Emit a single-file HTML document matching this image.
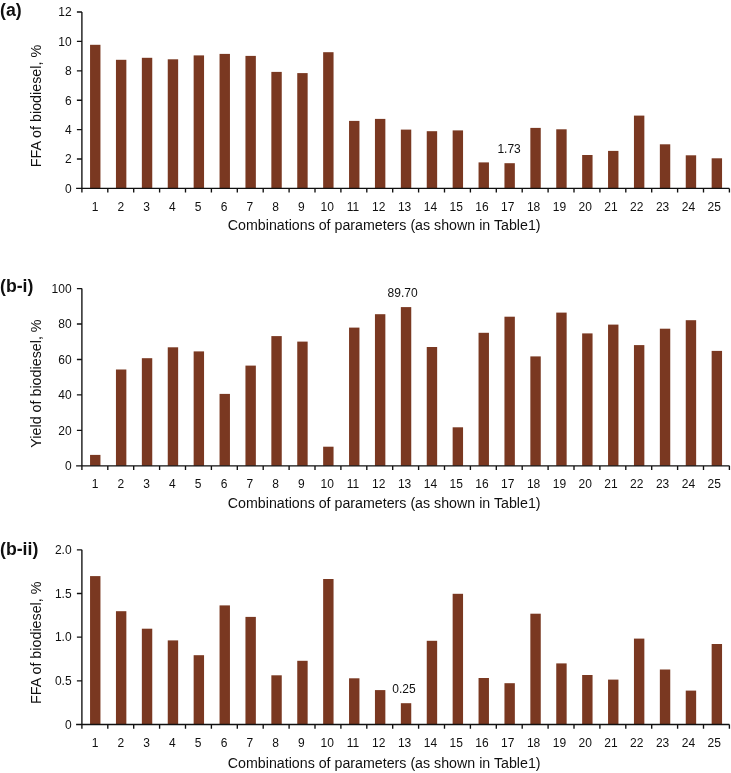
<!DOCTYPE html>
<html lang="en"><head><meta charset="utf-8"><title>Biodiesel charts</title>
<style>
html,body{margin:0;padding:0;background:#fff;}
body{width:731px;height:773px;overflow:hidden;}
svg{display:block;}
text{font-family:"Liberation Sans",Arial,Helvetica,sans-serif;fill:#101010;}
.t{font-size:12px;}
.a{font-size:14.23px;}
.y{font-size:14.3px;}
.h{font-size:17.7px;font-weight:bold;}
.ax{stroke:#101010;stroke-width:1.35;fill:none;}
.b{fill:#7a3821;}
</style></head><body>
<svg width="731" height="773" viewBox="0 0 731 773">
<rect width="731" height="773" fill="#fff"/>

<g>
<rect class="b" x="90.05" y="44.80" width="10.40" height="143.60"/>
<rect class="b" x="115.95" y="59.80" width="10.40" height="128.60"/>
<rect class="b" x="141.85" y="57.80" width="10.40" height="130.60"/>
<rect class="b" x="167.75" y="59.30" width="10.40" height="129.10"/>
<rect class="b" x="193.65" y="55.40" width="10.40" height="133.00"/>
<rect class="b" x="219.55" y="53.90" width="10.40" height="134.50"/>
<rect class="b" x="245.45" y="55.90" width="10.40" height="132.50"/>
<rect class="b" x="271.35" y="71.90" width="10.40" height="116.50"/>
<rect class="b" x="297.25" y="73.10" width="10.40" height="115.30"/>
<rect class="b" x="323.15" y="52.20" width="10.40" height="136.20"/>
<rect class="b" x="349.05" y="120.90" width="10.40" height="67.50"/>
<rect class="b" x="374.95" y="118.90" width="10.40" height="69.50"/>
<rect class="b" x="400.85" y="129.60" width="10.40" height="58.80"/>
<rect class="b" x="426.75" y="131.20" width="10.40" height="57.20"/>
<rect class="b" x="452.65" y="130.40" width="10.40" height="58.00"/>
<rect class="b" x="478.55" y="162.40" width="10.40" height="26.00"/>
<rect class="b" x="504.45" y="163.20" width="10.40" height="25.20"/>
<rect class="b" x="530.35" y="127.90" width="10.40" height="60.50"/>
<rect class="b" x="556.25" y="129.30" width="10.40" height="59.10"/>
<rect class="b" x="582.15" y="155.00" width="10.40" height="33.40"/>
<rect class="b" x="608.05" y="150.90" width="10.40" height="37.50"/>
<rect class="b" x="633.95" y="115.60" width="10.40" height="72.80"/>
<rect class="b" x="659.85" y="144.30" width="10.40" height="44.10"/>
<rect class="b" x="685.75" y="155.30" width="10.40" height="33.10"/>
<rect class="b" x="711.65" y="158.30" width="10.40" height="30.10"/>
<path class="ax" d="M81.90 12.00 V188.40 H729.40 M76.10 188.40 H81.90 M76.90 159.00 H81.90 M76.90 129.60 H81.90 M76.90 100.20 H81.90 M76.90 70.80 H81.90 M76.90 41.40 H81.90 M76.90 12.00 H81.90 M81.90 188.40 V192.60 M107.80 188.40 V192.60 M133.70 188.40 V192.60 M159.60 188.40 V192.60 M185.50 188.40 V192.60 M211.40 188.40 V192.60 M237.30 188.40 V192.60 M263.20 188.40 V192.60 M289.10 188.40 V192.60 M315.00 188.40 V192.60 M340.90 188.40 V192.60 M366.80 188.40 V192.60 M392.70 188.40 V192.60 M418.60 188.40 V192.60 M444.50 188.40 V192.60 M470.40 188.40 V192.60 M496.30 188.40 V192.60 M522.20 188.40 V192.60 M548.10 188.40 V192.60 M574.00 188.40 V192.60 M599.90 188.40 V192.60 M625.80 188.40 V192.60 M651.70 188.40 V192.60 M677.60 188.40 V192.60 M703.50 188.40 V192.60 M729.40 188.40 V192.60"/>
<text class="t" x="71.6" y="192.70" text-anchor="end">0</text>
<text class="t" x="71.6" y="163.30" text-anchor="end">2</text>
<text class="t" x="71.6" y="133.90" text-anchor="end">4</text>
<text class="t" x="71.6" y="104.50" text-anchor="end">6</text>
<text class="t" x="71.6" y="75.10" text-anchor="end">8</text>
<text class="t" x="71.6" y="45.70" text-anchor="end">10</text>
<text class="t" x="71.6" y="16.30" text-anchor="end">12</text>
<text class="t" x="95.00" y="210.80" text-anchor="middle">1</text>
<text class="t" x="120.80" y="210.80" text-anchor="middle">2</text>
<text class="t" x="146.60" y="210.80" text-anchor="middle">3</text>
<text class="t" x="172.40" y="210.80" text-anchor="middle">4</text>
<text class="t" x="198.20" y="210.80" text-anchor="middle">5</text>
<text class="t" x="224.00" y="210.80" text-anchor="middle">6</text>
<text class="t" x="249.80" y="210.80" text-anchor="middle">7</text>
<text class="t" x="275.60" y="210.80" text-anchor="middle">8</text>
<text class="t" x="301.40" y="210.80" text-anchor="middle">9</text>
<text class="t" x="327.20" y="210.80" text-anchor="middle">10</text>
<text class="t" x="353.00" y="210.80" text-anchor="middle">11</text>
<text class="t" x="378.80" y="210.80" text-anchor="middle">12</text>
<text class="t" x="404.60" y="210.80" text-anchor="middle">13</text>
<text class="t" x="430.40" y="210.80" text-anchor="middle">14</text>
<text class="t" x="456.20" y="210.80" text-anchor="middle">15</text>
<text class="t" x="482.00" y="210.80" text-anchor="middle">16</text>
<text class="t" x="507.80" y="210.80" text-anchor="middle">17</text>
<text class="t" x="533.60" y="210.80" text-anchor="middle">18</text>
<text class="t" x="559.40" y="210.80" text-anchor="middle">19</text>
<text class="t" x="585.20" y="210.80" text-anchor="middle">20</text>
<text class="t" x="611.00" y="210.80" text-anchor="middle">21</text>
<text class="t" x="636.80" y="210.80" text-anchor="middle">22</text>
<text class="t" x="662.60" y="210.80" text-anchor="middle">23</text>
<text class="t" x="688.40" y="210.80" text-anchor="middle">24</text>
<text class="t" x="714.20" y="210.80" text-anchor="middle">25</text>
<text class="a" x="384.2" y="229.70" text-anchor="middle">Combinations of parameters (as shown in Table1)</text>
<text class="y" transform="translate(40.8 106.10) rotate(-90)" text-anchor="middle">FFA of biodiesel, %</text>
<text class="t" x="509.10" y="152.80" text-anchor="middle">1.73</text>
<text class="h" transform="translate(0 15.95) scale(1 1.055)">(a)</text>
</g>
<g>
<rect class="b" x="90.05" y="454.90" width="10.40" height="10.90"/>
<rect class="b" x="115.95" y="369.50" width="10.40" height="96.30"/>
<rect class="b" x="141.85" y="358.20" width="10.40" height="107.60"/>
<rect class="b" x="167.75" y="347.30" width="10.40" height="118.50"/>
<rect class="b" x="193.65" y="351.40" width="10.40" height="114.40"/>
<rect class="b" x="219.55" y="393.90" width="10.40" height="71.90"/>
<rect class="b" x="245.45" y="365.60" width="10.40" height="100.20"/>
<rect class="b" x="271.35" y="336.10" width="10.40" height="129.70"/>
<rect class="b" x="297.25" y="341.60" width="10.40" height="124.20"/>
<rect class="b" x="323.15" y="446.70" width="10.40" height="19.10"/>
<rect class="b" x="349.05" y="327.60" width="10.40" height="138.20"/>
<rect class="b" x="374.95" y="314.20" width="10.40" height="151.60"/>
<rect class="b" x="400.85" y="307.10" width="10.40" height="158.70"/>
<rect class="b" x="426.75" y="347.00" width="10.40" height="118.80"/>
<rect class="b" x="452.65" y="427.30" width="10.40" height="38.50"/>
<rect class="b" x="478.55" y="332.80" width="10.40" height="133.00"/>
<rect class="b" x="504.45" y="316.70" width="10.40" height="149.10"/>
<rect class="b" x="530.35" y="356.40" width="10.40" height="109.40"/>
<rect class="b" x="556.25" y="312.60" width="10.40" height="153.20"/>
<rect class="b" x="582.15" y="333.40" width="10.40" height="132.40"/>
<rect class="b" x="608.05" y="324.60" width="10.40" height="141.20"/>
<rect class="b" x="633.95" y="345.10" width="10.40" height="120.70"/>
<rect class="b" x="659.85" y="328.70" width="10.40" height="137.10"/>
<rect class="b" x="685.75" y="320.20" width="10.40" height="145.60"/>
<rect class="b" x="711.65" y="350.90" width="10.40" height="114.90"/>
<path class="ax" d="M81.90 288.60 V465.80 H729.40 M76.10 465.80 H81.90 M76.90 430.36 H81.90 M76.90 394.92 H81.90 M76.90 359.48 H81.90 M76.90 324.04 H81.90 M76.90 288.60 H81.90 M81.90 465.80 V470.00 M107.80 465.80 V470.00 M133.70 465.80 V470.00 M159.60 465.80 V470.00 M185.50 465.80 V470.00 M211.40 465.80 V470.00 M237.30 465.80 V470.00 M263.20 465.80 V470.00 M289.10 465.80 V470.00 M315.00 465.80 V470.00 M340.90 465.80 V470.00 M366.80 465.80 V470.00 M392.70 465.80 V470.00 M418.60 465.80 V470.00 M444.50 465.80 V470.00 M470.40 465.80 V470.00 M496.30 465.80 V470.00 M522.20 465.80 V470.00 M548.10 465.80 V470.00 M574.00 465.80 V470.00 M599.90 465.80 V470.00 M625.80 465.80 V470.00 M651.70 465.80 V470.00 M677.60 465.80 V470.00 M703.50 465.80 V470.00 M729.40 465.80 V470.00"/>
<text class="t" x="71.6" y="470.10" text-anchor="end">0</text>
<text class="t" x="71.6" y="434.66" text-anchor="end">20</text>
<text class="t" x="71.6" y="399.22" text-anchor="end">40</text>
<text class="t" x="71.6" y="363.78" text-anchor="end">60</text>
<text class="t" x="71.6" y="328.34" text-anchor="end">80</text>
<text class="t" x="71.6" y="292.90" text-anchor="end">100</text>
<text class="t" x="95.00" y="488.10" text-anchor="middle">1</text>
<text class="t" x="120.80" y="488.10" text-anchor="middle">2</text>
<text class="t" x="146.60" y="488.10" text-anchor="middle">3</text>
<text class="t" x="172.40" y="488.10" text-anchor="middle">4</text>
<text class="t" x="198.20" y="488.10" text-anchor="middle">5</text>
<text class="t" x="224.00" y="488.10" text-anchor="middle">6</text>
<text class="t" x="249.80" y="488.10" text-anchor="middle">7</text>
<text class="t" x="275.60" y="488.10" text-anchor="middle">8</text>
<text class="t" x="301.40" y="488.10" text-anchor="middle">9</text>
<text class="t" x="327.20" y="488.10" text-anchor="middle">10</text>
<text class="t" x="353.00" y="488.10" text-anchor="middle">11</text>
<text class="t" x="378.80" y="488.10" text-anchor="middle">12</text>
<text class="t" x="404.60" y="488.10" text-anchor="middle">13</text>
<text class="t" x="430.40" y="488.10" text-anchor="middle">14</text>
<text class="t" x="456.20" y="488.10" text-anchor="middle">15</text>
<text class="t" x="482.00" y="488.10" text-anchor="middle">16</text>
<text class="t" x="507.80" y="488.10" text-anchor="middle">17</text>
<text class="t" x="533.60" y="488.10" text-anchor="middle">18</text>
<text class="t" x="559.40" y="488.10" text-anchor="middle">19</text>
<text class="t" x="585.20" y="488.10" text-anchor="middle">20</text>
<text class="t" x="611.00" y="488.10" text-anchor="middle">21</text>
<text class="t" x="636.80" y="488.10" text-anchor="middle">22</text>
<text class="t" x="662.60" y="488.10" text-anchor="middle">23</text>
<text class="t" x="688.40" y="488.10" text-anchor="middle">24</text>
<text class="t" x="714.20" y="488.10" text-anchor="middle">25</text>
<text class="a" x="384.2" y="508.10" text-anchor="middle">Combinations of parameters (as shown in Table1)</text>
<text class="y" transform="translate(40.8 383.55) rotate(-90)" text-anchor="middle">Yield of biodiesel, %</text>
<text class="t" x="402.60" y="297.00" text-anchor="middle">89.70</text>
<text class="h" transform="translate(0 291.60) scale(1 1.055)">(b-i)</text>
</g>
<g>
<rect class="b" x="90.05" y="576.10" width="10.40" height="148.40"/>
<rect class="b" x="115.95" y="611.20" width="10.40" height="113.30"/>
<rect class="b" x="141.85" y="628.70" width="10.40" height="95.80"/>
<rect class="b" x="167.75" y="640.40" width="10.40" height="84.10"/>
<rect class="b" x="193.65" y="655.20" width="10.40" height="69.30"/>
<rect class="b" x="219.55" y="605.40" width="10.40" height="119.10"/>
<rect class="b" x="245.45" y="616.90" width="10.40" height="107.60"/>
<rect class="b" x="271.35" y="675.30" width="10.40" height="49.20"/>
<rect class="b" x="297.25" y="660.80" width="10.40" height="63.70"/>
<rect class="b" x="323.15" y="579.00" width="10.40" height="145.50"/>
<rect class="b" x="349.05" y="678.30" width="10.40" height="46.20"/>
<rect class="b" x="374.95" y="690.10" width="10.40" height="34.40"/>
<rect class="b" x="400.85" y="703.20" width="10.40" height="21.30"/>
<rect class="b" x="426.75" y="640.80" width="10.40" height="83.70"/>
<rect class="b" x="452.65" y="593.80" width="10.40" height="130.70"/>
<rect class="b" x="478.55" y="678.00" width="10.40" height="46.50"/>
<rect class="b" x="504.45" y="683.20" width="10.40" height="41.30"/>
<rect class="b" x="530.35" y="613.70" width="10.40" height="110.80"/>
<rect class="b" x="556.25" y="663.40" width="10.40" height="61.10"/>
<rect class="b" x="582.15" y="675.00" width="10.40" height="49.50"/>
<rect class="b" x="608.05" y="679.60" width="10.40" height="44.90"/>
<rect class="b" x="633.95" y="638.60" width="10.40" height="85.90"/>
<rect class="b" x="659.85" y="669.50" width="10.40" height="55.00"/>
<rect class="b" x="685.75" y="690.60" width="10.40" height="33.90"/>
<rect class="b" x="711.65" y="644.00" width="10.40" height="80.50"/>
<path class="ax" d="M81.90 549.80 V724.50 H729.40 M76.10 724.50 H81.90 M76.90 680.83 H81.90 M76.90 637.15 H81.90 M76.90 593.47 H81.90 M76.90 549.80 H81.90 M81.90 724.50 V728.70 M107.80 724.50 V728.70 M133.70 724.50 V728.70 M159.60 724.50 V728.70 M185.50 724.50 V728.70 M211.40 724.50 V728.70 M237.30 724.50 V728.70 M263.20 724.50 V728.70 M289.10 724.50 V728.70 M315.00 724.50 V728.70 M340.90 724.50 V728.70 M366.80 724.50 V728.70 M392.70 724.50 V728.70 M418.60 724.50 V728.70 M444.50 724.50 V728.70 M470.40 724.50 V728.70 M496.30 724.50 V728.70 M522.20 724.50 V728.70 M548.10 724.50 V728.70 M574.00 724.50 V728.70 M599.90 724.50 V728.70 M625.80 724.50 V728.70 M651.70 724.50 V728.70 M677.60 724.50 V728.70 M703.50 724.50 V728.70 M729.40 724.50 V728.70"/>
<text class="t" x="71.6" y="728.80" text-anchor="end">0</text>
<text class="t" x="71.6" y="685.12" text-anchor="end">0.5</text>
<text class="t" x="71.6" y="641.45" text-anchor="end">1.0</text>
<text class="t" x="71.6" y="597.77" text-anchor="end">1.5</text>
<text class="t" x="71.6" y="554.10" text-anchor="end">2.0</text>
<text class="t" x="95.00" y="747.00" text-anchor="middle">1</text>
<text class="t" x="120.80" y="747.00" text-anchor="middle">2</text>
<text class="t" x="146.60" y="747.00" text-anchor="middle">3</text>
<text class="t" x="172.40" y="747.00" text-anchor="middle">4</text>
<text class="t" x="198.20" y="747.00" text-anchor="middle">5</text>
<text class="t" x="224.00" y="747.00" text-anchor="middle">6</text>
<text class="t" x="249.80" y="747.00" text-anchor="middle">7</text>
<text class="t" x="275.60" y="747.00" text-anchor="middle">8</text>
<text class="t" x="301.40" y="747.00" text-anchor="middle">9</text>
<text class="t" x="327.20" y="747.00" text-anchor="middle">10</text>
<text class="t" x="353.00" y="747.00" text-anchor="middle">11</text>
<text class="t" x="378.80" y="747.00" text-anchor="middle">12</text>
<text class="t" x="404.60" y="747.00" text-anchor="middle">13</text>
<text class="t" x="430.40" y="747.00" text-anchor="middle">14</text>
<text class="t" x="456.20" y="747.00" text-anchor="middle">15</text>
<text class="t" x="482.00" y="747.00" text-anchor="middle">16</text>
<text class="t" x="507.80" y="747.00" text-anchor="middle">17</text>
<text class="t" x="533.60" y="747.00" text-anchor="middle">18</text>
<text class="t" x="559.40" y="747.00" text-anchor="middle">19</text>
<text class="t" x="585.20" y="747.00" text-anchor="middle">20</text>
<text class="t" x="611.00" y="747.00" text-anchor="middle">21</text>
<text class="t" x="636.80" y="747.00" text-anchor="middle">22</text>
<text class="t" x="662.60" y="747.00" text-anchor="middle">23</text>
<text class="t" x="688.40" y="747.00" text-anchor="middle">24</text>
<text class="t" x="714.20" y="747.00" text-anchor="middle">25</text>
<text class="a" x="384.2" y="768.00" text-anchor="middle">Combinations of parameters (as shown in Table1)</text>
<text class="y" transform="translate(40.8 642.75) rotate(-90)" text-anchor="middle">FFA of biodiesel, %</text>
<text class="t" x="403.90" y="692.80" text-anchor="middle">0.25</text>
<text class="h" transform="translate(0 554.90) scale(1 1.055)">(b-ii)</text>
</g>
</svg></body></html>
